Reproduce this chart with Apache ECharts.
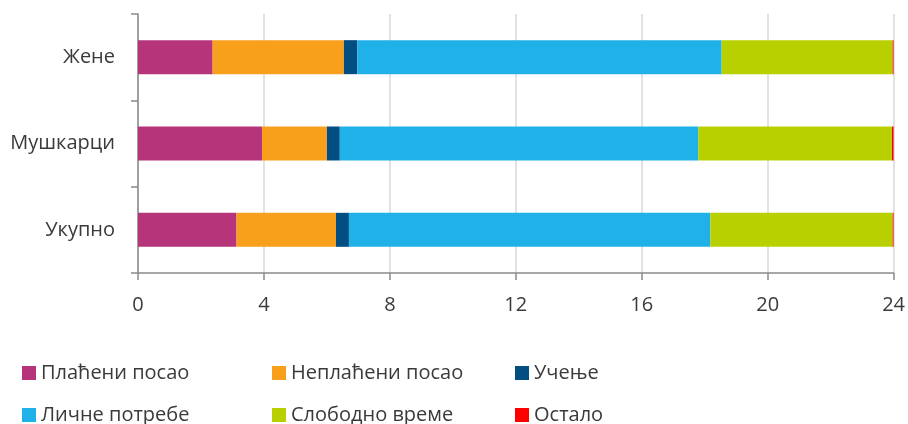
<!DOCTYPE html>
<html>
<head>
<meta charset="utf-8">
<script src="https://cdn.jsdelivr.net/npm/echarts@6/dist/echarts.min.js"></script>
<style>html,body{margin:0;padding:0;background:#fff}#c{width:908px;height:424px}</style>
</head>
<body>
<div id="c"></div>
<script>
const categories = ['Укупно', 'Мушкарци', 'Жене'];
const seriesNames = ['Плаћени посао', 'Неплаћени посао', 'Учење', 'Личне потребе', 'Слободно време', 'Остало'];
const placeniPosao   = [3.13, 3.94, 2.37];
const neplaceniPosao = [3.16, 2.06, 4.17];
const ucenje         = [0.41, 0.41, 0.43];
const licnePotrebe   = [11.48, 11.39, 11.57];
const slobodnoVreme  = [5.79, 6.15, 5.43];
const ostalo         = [0.03, 0.05, 0.03];
const xTicks = [0, 4, 8, 12, 16, 20, 24];

const values = [placeniPosao, neplaceniPosao, ucenje, licnePotrebe, slobodnoVreme, ostalo];
const colors = ['#B5347A', '#F8A01C', '#024E82', '#20B1E8', '#B8D000', '#FF0000'];
const font = '"Open Sans", "Noto Sans", sans-serif';
const textColor = '#3a3a3a';

const chart = echarts.init(document.getElementById('c'), null, {renderer: 'canvas'});
const legendLeft = [22, 272, 515];
const legendTop = [362, 404];
chart.setOption({
  animation: false,
  color: colors,
  grid: {left: 138, right: 13, top: 14, bottom: 151, containLabel: false},
  xAxis: {
    type: 'value', min: xTicks[0], max: xTicks[xTicks.length - 1], interval: 4,
    axisLine: {show: true, lineStyle: {color: '#8a8a8a', width: 1.5}},
    axisTick: {show: true, length: 7, lineStyle: {color: '#8a8a8a', width: 1.5}},
    axisLabel: {fontSize: 20, color: textColor, fontFamily: font, margin: 22},
    splitLine: {show: true, lineStyle: {color: '#d9d9d9', width: 1.5}}
  },
  yAxis: {
    type: 'category', data: categories,
    axisLine: {show: true, lineStyle: {color: '#8a8a8a', width: 1.5}},
    axisTick: {show: true, length: 7, lineStyle: {color: '#8a8a8a', width: 1.5}},
    axisLabel: {fontSize: 20, color: textColor, fontFamily: font, margin: 23}
  },
  legend: seriesNames.map((n, i) => ({
    left: legendLeft[i % 3], top: legendTop[Math.floor(i / 3)],
    padding: 0, itemWidth: 14, itemHeight: 14,
    icon: 'rect', data: [n],
    textStyle: {fontSize: 20, color: textColor, fontFamily: font, lineHeight: 22, padding: [0, 0, 0, 0]}
  })),
  series: seriesNames.map((n, i) => ({
    name: n, type: 'bar', stack: 'total', barWidth: 34,
    data: values[i],
    itemStyle: {color: colors[i]}
  }))
});
</script>
</body>
</html>
